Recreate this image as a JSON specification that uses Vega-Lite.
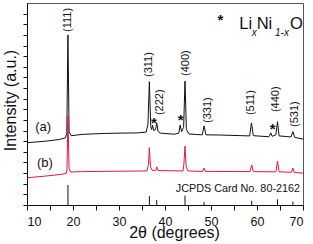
{
  "$schema": "https://vega.github.io/schema/vega-lite/v6.json",
  "width": 276,
  "height": 202,
  "autosize": {"type": "none"},
  "padding": {"left": 27, "top": 3, "right": 10, "bottom": 39},
  "background": "white",
  "config": {
    "view": {"stroke": "#555", "strokeWidth": 1},
    "font": "Liberation Sans",
    "axis": {"domainColor": "#111", "tickColor": "#111", "labelColor": "#111", "titleColor": "#111", "labelFont": "Liberation Sans", "titleFont": "Liberation Sans", "titleFontWeight": "normal", "grid": false, "ticks": true}
  },
  "datasets": {
    "a": [
      {"t": 10, "i": 29.3}, {"t": 14, "i": 30.0}, {"t": 17, "i": 30.8}, {"t": 18.3, "i": 31.5}, {"t": 18.65, "i": 33.5}, {"t": 18.9, "i": 80.0}, {"t": 19.15, "i": 34.5}, {"t": 19.6, "i": 32.6},
      {"t": 22, "i": 33.2}, {"t": 26, "i": 33.6}, {"t": 30, "i": 33.8}, {"t": 34, "i": 33.9}, {"t": 35.9, "i": 34.3}, {"t": 36.3, "i": 38.0}, {"t": 36.6, "i": 58.0}, {"t": 36.9, "i": 37.0},
      {"t": 37.1, "i": 35.5}, {"t": 37.3, "i": 37.5}, {"t": 37.55, "i": 35.0}, {"t": 37.95, "i": 35.5}, {"t": 38.2, "i": 38.6}, {"t": 38.5, "i": 34.5}, {"t": 39, "i": 33.8}, {"t": 42, "i": 33.3},
      {"t": 43.0, "i": 33.8}, {"t": 43.3, "i": 37.6}, {"t": 43.6, "i": 34.5}, {"t": 44.05, "i": 36.5}, {"t": 44.35, "i": 58.3}, {"t": 44.65, "i": 35.5}, {"t": 45.2, "i": 33.4},
      {"t": 48.1, "i": 33.0}, {"t": 48.5, "i": 37.2}, {"t": 48.9, "i": 33.0}, {"t": 52, "i": 32.9}, {"t": 58.4, "i": 32.5}, {"t": 58.8, "i": 38.6}, {"t": 59.2, "i": 32.6},
      {"t": 62.6, "i": 32.1}, {"t": 63.0, "i": 33.9}, {"t": 63.3, "i": 32.3}, {"t": 64.1, "i": 33.0}, {"t": 64.45, "i": 39.2}, {"t": 64.8, "i": 32.5}, {"t": 67.4, "i": 32.0}, {"t": 67.8, "i": 34.5}, {"t": 68.2, "i": 31.8}, {"t": 70, "i": 31.0}
    ],
    "b": [
      {"t": 10, "i": 12.8}, {"t": 14, "i": 13.6}, {"t": 17, "i": 14.3}, {"t": 18.5, "i": 14.8}, {"t": 18.7, "i": 17.0}, {"t": 18.9, "i": 42.0}, {"t": 19.15, "i": 17.0}, {"t": 19.5, "i": 15.5},
      {"t": 22, "i": 15.7}, {"t": 30, "i": 15.9}, {"t": 36.1, "i": 16.0}, {"t": 36.4, "i": 19.0}, {"t": 36.6, "i": 27.0}, {"t": 36.85, "i": 18.0}, {"t": 37.2, "i": 16.3}, {"t": 38.0, "i": 16.3},
      {"t": 38.2, "i": 17.9}, {"t": 38.45, "i": 16.2}, {"t": 43.9, "i": 16.0}, {"t": 44.1, "i": 19.0}, {"t": 44.35, "i": 27.7}, {"t": 44.6, "i": 18.0}, {"t": 45, "i": 16.0},
      {"t": 48.2, "i": 15.8}, {"t": 48.5, "i": 17.4}, {"t": 48.8, "i": 15.8}, {"t": 58.5, "i": 15.7}, {"t": 58.85, "i": 18.8}, {"t": 59.2, "i": 15.7}, {"t": 64.1, "i": 15.6}, {"t": 64.45, "i": 20.7}, {"t": 64.8, "i": 15.6},
      {"t": 67.5, "i": 15.4}, {"t": 67.8, "i": 17.4}, {"t": 68.1, "i": 15.3}, {"t": 70, "i": 15.0}
    ],
    "sticks": [
      {"t": 18.9, "i": 9.4}, {"t": 36.6, "i": 4.2}, {"t": 38.2, "i": 2.4}, {"t": 44.35, "i": 4.4}, {"t": 48.5, "i": 1.4}, {"t": 58.85, "i": 2.0}, {"t": 64.45, "i": 2.7}, {"t": 67.8, "i": 1.6}
    ],
    "hkl": [
      {"t": 18.9, "i": 81.4, "label": "(111)"}, {"t": 36.6, "i": 60.2, "label": "(311)"}, {"t": 38.9, "i": 42.3, "label": "(222)"}, {"t": 44.6, "i": 60.7, "label": "(400)"},
      {"t": 49.3, "i": 38.6, "label": "(331)"}, {"t": 58.8, "i": 42.3, "label": "(511)"}, {"t": 64.2, "i": 43.7, "label": "(440)"}, {"t": 68.2, "i": 36.7, "label": "(531)"}
    ],
    "stars": [
      {"t": 37.6, "i": 40.0}, {"t": 43.4, "i": 41.4}, {"t": 63.4, "i": 37.2}, {"t": 52.07, "i": 88.4}
    ],
    "series": [
      {"t": 13.5, "i": 36.7, "label": "(a)"}, {"t": 13.9, "i": 19.8, "label": "(b)"}
    ],
    "card": [{"t": 69.35, "i": 7.5, "label": "JCPDS Card No. 80-2162"}],
    "formula": [
      {"t": 56.15, "i": 82.8, "label": "Li"}, {"t": 59.93, "i": 82.8, "label": "Ni"}, {"t": 67.17, "i": 82.8, "label": "O"}
    ],
    "subs": [
      {"t": 58.85, "i": 79.6, "label": "x"}, {"t": 63.91, "i": 79.6, "label": "1-x"}
    ]
  },
  "encoding": {
    "x": {"field": "t", "type": "quantitative", "scale": {"domain": [10, 70], "nice": false, "zero": false},
      "axis": {"values": [10, 15, 20, 25, 30, 35, 40, 45, 50, 55, 60, 65, 70], "labelExpr": "datum.value % 10 === 0 ? datum.label : ''",
        "ticks": true, "tickSize": 5,
        "encode": {"ticks": {"update": {"y2": {"signal": "datum.value % 10 === 0 ? -5 : -3"}}}},
        "labelFontSize": 12.5, "labelPadding": 5, "title": "2θ (degrees)", "titleFontSize": 16, "titlePadding": -3, "titleX": 147, "domainWidth": 1, "tickWidth": 1}},
    "y": {"field": "i", "type": "quantitative", "scale": {"domain": [0, 95], "nice": false, "zero": false},
      "axis": {"values": [0, 5, 10, 15, 20, 25, 30, 35, 40, 45, 50, 55, 60, 65, 70, 75, 80, 85, 90], "labels": false,
        "ticks": true, "tickSize": 4,
        "encode": {"ticks": {"update": {"x2": {"signal": "datum.value % 10 === 0 ? 4 : 2.5"}}}},
        "title": "Intensity (a.u.)", "titleFontSize": 16, "titlePadding": 4, "titleY": 97, "domainWidth": 1, "tickWidth": 1}}
  },
  "layer": [
    {
      "data": {"name": "a"},
      "mark": {"type": "line", "color": "#111111", "strokeWidth": 1, "interpolate": "linear"},
      "encoding": {}
    },
    {
      "data": {"name": "b"},
      "mark": {"type": "line", "color": "#e5173f", "strokeWidth": 1, "interpolate": "linear"},
      "encoding": {}
    },
    {
      "data": {"name": "sticks"},
      "mark": {"type": "rule", "color": "#111111", "strokeWidth": 1},
      "encoding": {"y2": {"datum": 0}}
    },
    {
      "data": {"name": "hkl"},
      "mark": {"type": "text", "angle": 270, "align": "left", "baseline": "middle", "fontSize": 11, "color": "#111"},
      "encoding": {"text": {"field": "label"}}
    },
    {
      "data": {"name": "stars"},
      "mark": {"type": "text", "align": "center", "baseline": "middle", "fontSize": 15, "fontWeight": "bold", "color": "#111", "dy": 3},
      "encoding": {"text": {"value": "*"}}
    },
    {
      "data": {"name": "series"},
      "mark": {"type": "text", "align": "center", "baseline": "middle", "fontSize": 13, "color": "#111"},
      "encoding": {"text": {"field": "label"}}
    },
    {
      "data": {"name": "card"},
      "mark": {"type": "text", "align": "right", "baseline": "middle", "fontSize": 10.8, "color": "#111"},
      "encoding": {"text": {"field": "label"}}
    },
    {
      "data": {"name": "formula"},
      "mark": {"type": "text", "align": "left", "baseline": "alphabetic", "fontSize": 16.5, "color": "#111"},
      "encoding": {"text": {"field": "label"}}
    },
    {
      "data": {"name": "subs"},
      "mark": {"type": "text", "align": "left", "baseline": "alphabetic", "fontSize": 10, "fontStyle": "italic", "color": "#111"},
      "encoding": {"text": {"field": "label"}}
    }
  ]
}
